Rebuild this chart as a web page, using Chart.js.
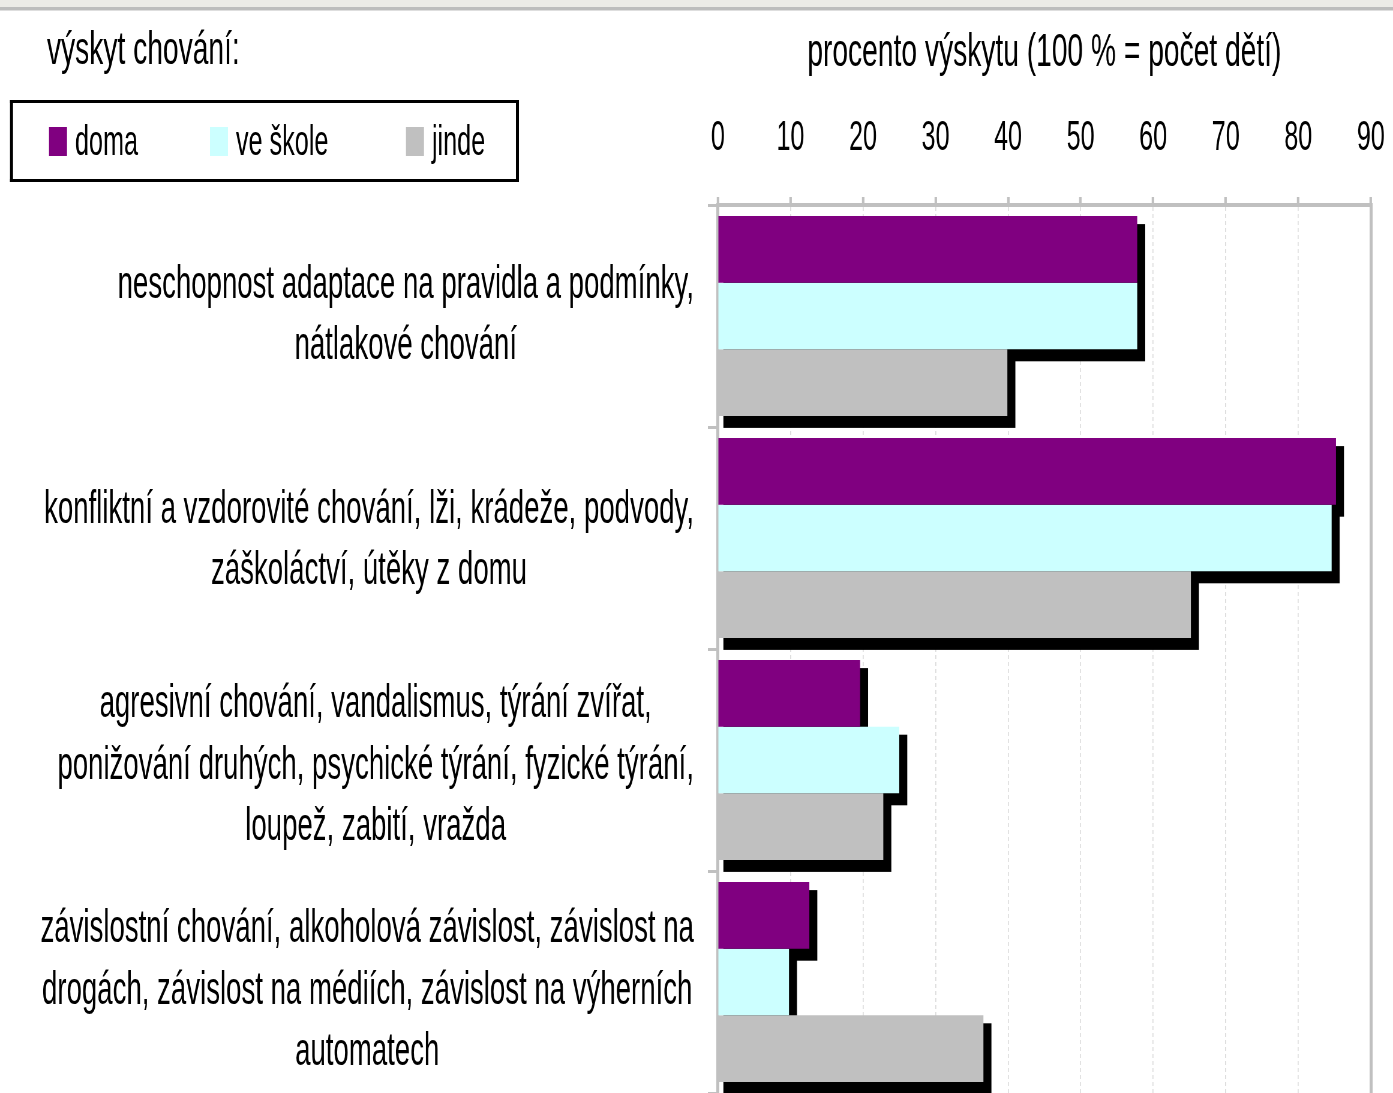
<!DOCTYPE html>
<html>
<head>
<meta charset="utf-8">
<script src="https://cdn.jsdelivr.net/npm/chart.js@4.4.1/dist/chart.umd.min.js"></script>
<style>
  html, body { margin: 0; padding: 0; background: #fff; overflow: hidden; }
  canvas { display: block; }
</style>
</head>
<body>
<canvas id="chart"></canvas>
<script>
// categories (multi-line labels)
const categories = [
  ["neschopnost adaptace na pravidla a podmínky,", "nátlakové chování"],
  ["konfliktní a vzdorovité chování, lži, krádeže, podvody,", "záškoláctví, útěky z domu"],
  ["agresivní chování, vandalismus, týrání zvířat,", "ponižování druhých, psychické týrání, fyzické týrání,", "loupež, zabití, vražda"],
  ["závislostní chování, alkoholová závislost, závislost na", "drogách, závislost na médiích, závislost na výherních", "automatech"]
]

// series values (% of children)
const seriesNames = ["doma", "ve škole", "jinde"]
const domaValues = [57.8, 85.2, 19.6, 12.6]
const veSkoleValues = [57.8, 84.6, 25.0, 9.8]
const jindeValues = [39.9, 65.2, 22.8, 36.6]

// axis
const axisMin = 0
const axisMax = 90
const axisStep = 10
const axisTitle = "procento výskytu (100 % = počet dětí)"
const legendTitle = "výskyt chování:"

const seriesColors = ["#800080", "#CCFFFF", "#C0C0C0"]
const FONT = "'Liberation Sans', Arial, sans-serif"

// the original picture is squeezed horizontally, so draw wide and squeeze
const SX = 0.6
const W = Math.round(1393 / SX)
const H = 1093
const px = v => v / SX

const canvas = document.getElementById("chart")
canvas.width = W
canvas.height = H
canvas.style.width = "1393px"
canvas.style.height = H + "px"

// page background + thin strip at the very top
const background = {
  id: "background",
  beforeDraw(chart) {
    const ctx = chart.ctx
    ctx.save()
    ctx.fillStyle = "#fff"
    ctx.fillRect(0, 0, chart.width, chart.height)
    ctx.fillStyle = "#ecebe7"
    ctx.fillRect(0, 0, chart.width, 7)
    ctx.fillStyle = "#bdbdbd"
    ctx.fillRect(0, 7, chart.width, 3.5)
    ctx.restore()
  }
}

// black drop shadow under every bar (all shadows first, then the bars)
const barShadow = {
  id: "barShadow",
  beforeDatasetsDraw(chart) {
    const ctx = chart.ctx
    ctx.save()
    ctx.fillStyle = "#000"
    chart.data.datasets.forEach((ds, i) => {
      chart.getDatasetMeta(i).data.forEach(bar => {
        const { x, y, base, height } = bar.getProps(["x", "y", "base", "height"], true)
        const top = y - height / 2
        ctx.fillRect(base + px(5), top + 8, x - base + px(3), height + 4)
      })
    })
    ctx.restore()
  }
}

// category labels: each label block centred on itself, right edge next to the axis
const categoryLabels = {
  id: "categoryLabels",
  afterDraw(chart) {
    const ctx = chart.ctx
    const yScale = chart.scales.y
    ctx.save()
    ctx.font = `46px ${FONT}`
    ctx.fillStyle = "#000"
    ctx.textAlign = "center"
    ctx.textBaseline = "middle"
    const right = px(694)
    chart.data.labels.forEach((lines, i) => {
      const w = Math.max(...lines.map(l => ctx.measureText(l).width))
      const cx = right - w / 2
      const cy = yScale.getPixelForTick(i) + i * 3
      lines.forEach((line, j) => {
        ctx.fillText(line, cx, cy + (j - (lines.length - 1) / 2) * 61.5)
      })
    })
    ctx.restore()
  }
}

// legend in a black frame + heading above it
const boxedLegend = {
  id: "boxedLegend",
  afterDraw(chart) {
    const ctx = chart.ctx
    ctx.save()
    ctx.fillStyle = "#000"
    ctx.fillRect(px(10), 100, px(509), 3)
    ctx.fillRect(px(10), 179, px(509), 3)
    ctx.fillRect(px(10), 100, px(3), 82)
    ctx.fillRect(px(516), 100, px(3), 82)

    const itemX = [49, 210, 406]
    ctx.font = `42px ${FONT}`
    ctx.textBaseline = "alphabetic"
    ctx.textAlign = "left"
    chart.data.datasets.forEach((ds, i) => {
      ctx.fillStyle = ds.backgroundColor
      ctx.fillRect(px(itemX[i]), 127, px(18), 29)
      ctx.fillStyle = "#000"
      ctx.fillText(ds.label, px(itemX[i] + 26), 155)
    })

    ctx.font = `47px ${FONT}`
    ctx.fillText(legendTitle, px(47), 64)
    ctx.restore()
  }
}

const seriesValues = [domaValues, veSkoleValues, jindeValues]

new Chart(canvas, {
  type: "bar",
  data: {
    labels: categories,
    datasets: seriesNames.map((name, i) => ({
      label: name,
      data: seriesValues[i],
      backgroundColor: seriesColors[i],
      borderWidth: 0,
      categoryPercentage: 0.9,
      barPercentage: 1.0
    }))
  },
  options: {
    indexAxis: "y",
    responsive: false,
    devicePixelRatio: 1,
    animation: false,
    layout: {
      padding: { top: 0, left: 0, right: W - px(1371), bottom: -7 }
    },
    plugins: {
      legend: { display: false },
      title: { display: false },
      tooltip: { enabled: false }
    },
    scales: {
      x: {
        type: "linear",
        position: "top",
        min: axisMin,
        max: axisMax,
        ticks: {
          stepSize: axisStep,
          color: "#000",
          font: { family: FONT, size: 42 },
          padding: 33,
          maxRotation: 0
        },
        grid: {
          color: "#dcdcdc",
          lineWidth: px(1),
          tickLength: 8,
          tickColor: "#c0c0c0",
          tickWidth: px(2.5),
          tickBorderDash: []
        },
        border: { color: "#c0c0c0", width: 4, dash: [4, 3] },
        title: {
          display: true,
          text: axisTitle,
          color: "#000",
          font: { family: FONT, size: 47 },
          padding: { top: 25, bottom: 0 }
        },
        afterFit: s => {
          s.height = 205
          // the end labels may hang over the edges, like in the original
          s.paddingLeft = 0
          s.paddingRight = 0
        }
      },
      y: {
        type: "category",
        position: "left",
        ticks: { display: false },
        grid: {
          offset: true,
          drawOnChartArea: false,
          drawTicks: true,
          tickLength: px(10),
          color: "#c0c0c0",
          lineWidth: 3
        },
        border: { color: "#c0c0c0", width: px(3) },
        afterFit: s => { s.width = px(718) }
      },
      yRight: {
        type: "category",
        position: "right",
        ticks: { display: false },
        grid: { display: false },
        border: { color: "#c0c0c0", width: px(3) },
        afterFit: s => { s.width = 0 }
      }
    }
  },
  plugins: [background, barShadow, categoryLabels, boxedLegend]
})
</script>
</body>
</html>
